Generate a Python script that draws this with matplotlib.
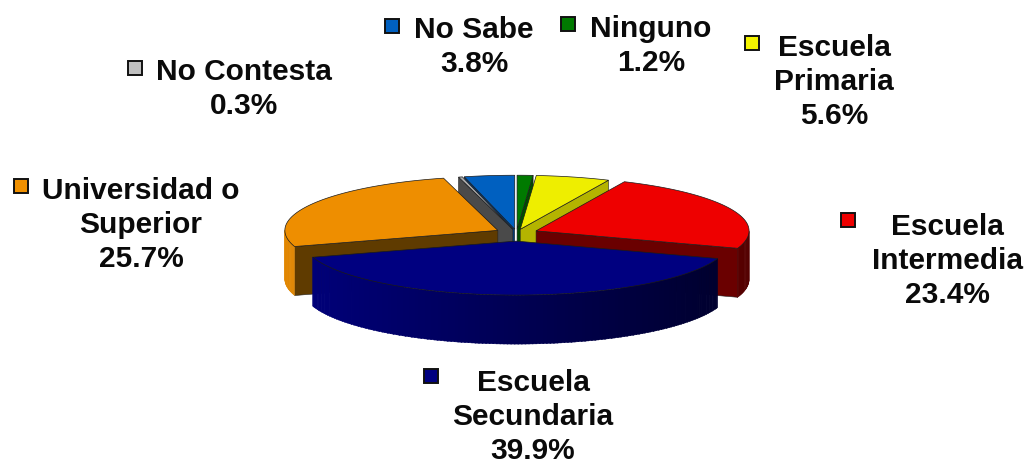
import matplotlib
matplotlib.use('Agg')
import matplotlib.pyplot as plt
import numpy as np
from matplotlib.patches import Rectangle

plt.rcParams['font.family'] = ['Liberation Sans', 'DejaVu Sans']

# data, clockwise from 12 o'clock
names = ['Ninguno', 'Escuela\nPrimaria', 'Escuela\nIntermedia', 'Escuela\nSecundaria',
         'Universidad o\nSuperior', 'No Contesta', 'No Sabe']
shares = [1.2, 5.6, 23.4, 39.9, 25.7, 0.3, 3.8]

# styles
top_colors = ['#007a00', '#eeee00', '#ee0000', '#000080', '#ee8e00', '#a8a8a8', '#0060c0']
key_colors = ['#007a00', '#f4f400', '#ee0000', '#000080', '#f09000', '#c0c0c0', '#0060c0']
side_colors = ['#004d00', '#b4b400', '#6a0000', '#000050', '#5f3b00', '#4a4a4a', '#003a78']
explode = [0.07, 0.07, 0.1, 0.15, 0.1, 0.07, 0.07]
draw_order = [6, 5, 0, 1, 2, 4, 3]

# label layout in pixels
text_pos = [(651, 46), (834, 82), (947, 261), (533, 417), (141, 225), (244, 89), (474, 47)]
key_pos = [(568, 25), (752, 44), (848, 221), (431, 377), (21, 187), (135, 69), (392, 27)]

cx, cy = 516.5, 234
rx, ry = 213, 54
depth = 49

fig = plt.figure(figsize=(10.27, 4.64), dpi=100)
ax = fig.add_axes([0, 0, 1, 1])
ax.set_xlim(0, 1027)
ax.set_ylim(464, 0)
ax.axis('off')

edges = np.cumsum([0] + shares) / sum(shares) * 2 * np.pi


def arc(a0, a1, ox, oy):
    t = np.linspace(a0, a1, max(int((a1 - a0) * 80), 2))
    return ox + rx * np.sin(t), oy - ry * np.cos(t)


def rim_shade(color, t):
    # lit from the left, darker towards the right
    f = 0.65 - 0.3 * np.sin(t)
    return tuple(c * f for c in matplotlib.colors.to_rgb(color))


for i in draw_order:
    a0, a1 = edges[i], edges[i + 1]
    mid = (a0 + a1) / 2
    ox = cx + explode[i] * rx * np.sin(mid)
    oy = cy - explode[i] * ry * np.cos(mid)

    # cut faces that look towards the viewer
    for a, visible in ((a0, np.sin(a0) < 0), (a1, np.sin(a1) > 0)):
        if visible:
            ex, ey = ox + rx * np.sin(a), oy - ry * np.cos(a)
            ax.fill([ox, ex, ex, ox], [oy, ey, ey + depth, oy + depth],
                    color=side_colors[i], ec='#222222', lw=0.4, zorder=2)

    # outer wall, front half only
    f0, f1 = max(a0, np.pi / 2), min(a1, 3 * np.pi / 2)
    if f1 > f0:
        steps = np.linspace(f0, f1, max(int((f1 - f0) * 60), 2))
        for s0, s1 in zip(steps[:-1], steps[1:]):
            xa, ya = arc(s0, s1 + 0.005, ox, oy)
            ax.fill(np.r_[xa, xa[::-1]], np.r_[ya, ya[::-1] + depth],
                    color=rim_shade(top_colors[i], (s0 + s1) / 2), lw=0.3, zorder=2)

    # top face
    xa, ya = arc(a0, a1, ox, oy)
    ax.fill(np.r_[ox, xa], np.r_[oy, ya], color=top_colors[i], ec='#1a1a1a', lw=0.5, zorder=2)

for i, name in enumerate(names):
    tx, ty = text_pos[i]
    ax.text(tx, ty, f'{name}\n{shares[i]}%', ha='center', va='center', fontsize=21.5,
            fontweight='bold', color='#0a0a0a', linespacing=1.29)
    kx, ky = key_pos[i]
    ax.add_patch(Rectangle((kx - 7, ky - 7), 14, 14, fc=key_colors[i], ec='#111111', lw=1.4))

plt.savefig('out.png', dpi=100)
